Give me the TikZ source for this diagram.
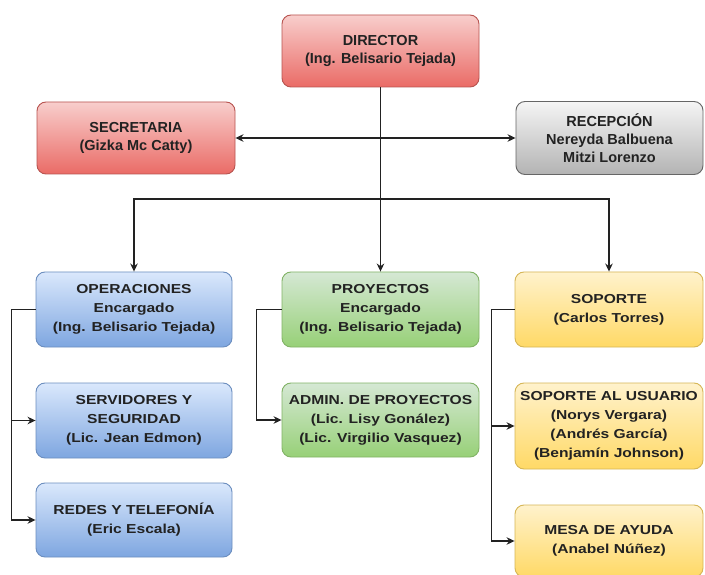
\documentclass[tikz,border=0pt]{standalone}
\usepackage{fontspec}
\setmainfont{Liberation Sans}
\newfontfamily\topfont{Liberation Sans}
\newfontfamily\lowfont{Liberation Sans}[FakeStretch=1.2]
\usetikzlibrary{arrows.meta}
\definecolor{redT}{HTML}{F8CECC}\definecolor{redB}{HTML}{EA6B66}\definecolor{redS}{HTML}{B85450}
\definecolor{grayT}{HTML}{F5F5F5}\definecolor{grayB}{HTML}{B3B3B3}\definecolor{grayS}{HTML}{666666}
\definecolor{bluT}{HTML}{DAE8FC}\definecolor{bluB}{HTML}{7EA6E0}\definecolor{bluS}{HTML}{6C8EBF}
\definecolor{grnT}{HTML}{D5E8D4}\definecolor{grnB}{HTML}{97D077}\definecolor{grnS}{HTML}{82B366}
\definecolor{ylwT}{HTML}{FFF2CC}\definecolor{ylwB}{HTML}{FFD966}\definecolor{ylwS}{HTML}{D6B656}
\definecolor{txt}{HTML}{222222}
\tikzset{
  orgbox/.style={rounded corners=9pt, line width=0.9pt, align=center, text=txt, inner sep=0pt},
  topbox/.style={orgbox, font=\topfont\bfseries\fontsize{14.5}{18}\selectfont},
  lowbox/.style={orgbox, font=\lowfont\bfseries\fontsize{13}{19}\selectfont},
  redbox/.style={topbox, draw=redS, top color=redT, bottom color=redB, minimum width=197pt, minimum height=72pt},
  graybox/.style={topbox, draw=grayS, top color=grayT, bottom color=grayB, minimum width=187pt, minimum height=73pt},
  bluebox/.style={lowbox, draw=bluS, top color=bluT, bottom color=bluB, minimum width=196pt, minimum height=75pt},
  greenbox/.style={lowbox, draw=grnS, top color=grnT, bottom color=grnB, minimum width=197pt, minimum height=75pt},
  yellowbox/.style={lowbox, draw=ylwS, top color=ylwT, bottom color=ylwB, minimum width=188pt, minimum height=75pt},
  conn/.style={line width=1.3pt, draw=txt},
  arr/.style={conn, -{Stealth[length=8pt, width=7.5pt]}}
}
\begin{document}
\begin{tikzpicture}[x=1pt, y=-1pt]
\useasboundingbox (0,0) rectangle (705,575);
\fill[white] (0,0) rectangle (705,575);
% top level
\node[redbox] (dir) at (380.5,51) {DIRECTOR\\(Ing. Belisario Tejada)};
\node[redbox, minimum width=198pt] (sec) at (136,138) {SECRETARIA\\(Gizka Mc Catty)};
\node[graybox] (rec) at (609.5,138) {RECEPCIÓN\\Nereyda Balbuena\\Mitzi Lorenzo};
% departments
\node[bluebox] (ope) at (134,309.5) {OPERACIONES\\Encargado\\(Ing. Belisario Tejada)};
\node[bluebox] (ser) at (134,420.5) {SERVIDORES Y\\SEGURIDAD\\(Lic. Jean Edmon)};
\node[bluebox, minimum height=74pt] (red) at (134,520) {REDES Y TELEFONÍA\\(Eric Escala)};
\node[greenbox] (pro) at (380.5,309.5) {PROYECTOS\\Encargado\\(Ing. Belisario Tejada)};
\node[greenbox, minimum height=74pt] (adm) at (380.5,420) {ADMIN. DE PROYECTOS\\(Lic. Lisy Gonález)\\(Lic. Virgilio Vasquez)};
\node[yellowbox] (sop) at (609,309.5) {SOPORTE\\(Carlos Torres)};
\node[yellowbox, minimum height=86pt] (sus) at (609,426) {SOPORTE AL USUARIO\\(Norys Vergara)\\(Andrés García)\\(Benjamín Johnson)};
\node[yellowbox, minimum height=72pt] (mes) at (609,541) {MESA DE AYUDA\\(Anabel Núñez)};
% connectors
\coordinate (mid) at (380.5,138);
\coordinate (jn) at (380.5,199);
\draw[conn] (dir.south) -- (jn);
\draw[arr] (mid) -- (sec.east);
\draw[arr] (mid) -- (rec.west);
\draw[arr] (jn) -| (ope.north);
\draw[arr] (jn) -- (pro.north);
\draw[arr] (jn) -| (sop.north);
\draw[arr] (ope.west) -- ++(-24,0) |- (ser.west);
\draw[arr] (ope.west) -- ++(-24,0) |- (red.west);
\draw[arr] (pro.west) -- ++(-25,0) |- (adm.west);
\draw[arr] (sop.west) -- ++(-23,0) |- (sus.west);
\draw[arr] (sop.west) -- ++(-23,0) |- (mes.west);
\end{tikzpicture}
\end{document}
